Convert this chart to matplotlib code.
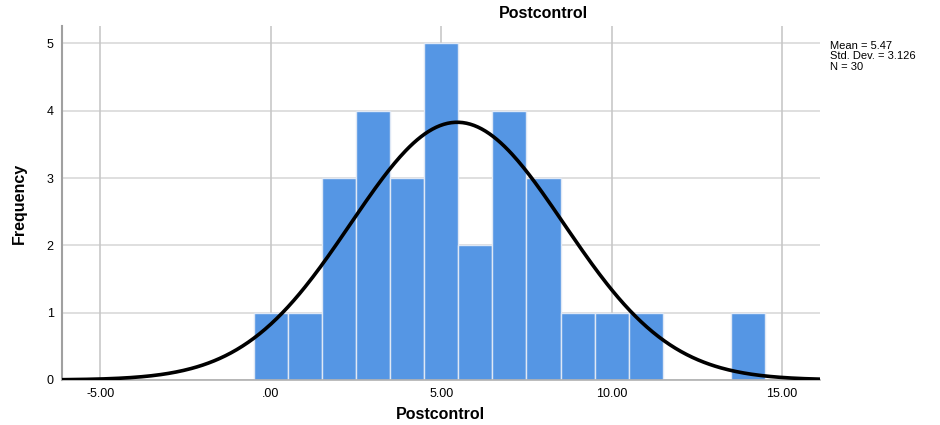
import matplotlib.pyplot as plt
import numpy as np

plt.rcParams['font.family'] = ['Liberation Sans', 'DejaVu Sans']

# histogram data (bin centres and counts)
bin_centres = [0, 1, 2, 3, 4, 5, 6, 7, 8, 9, 10, 11, 12, 13, 14]
counts = [1, 1, 3, 4, 3, 5, 2, 4, 3, 1, 1, 1, 0, 0, 1]
mean = 5.47
std = 3.126
n = 30
xticks = [-5, 0, 5, 10, 15]
xtick_labels = ['-5.00', '.00', '5.00', '10.00', '15.00']
yticks = [0, 1, 2, 3, 4, 5]

fig = plt.figure(figsize=(9.4, 4.25), dpi=100)
ax = fig.add_axes([0.066, 0.106, 0.806, 0.833])

ax.bar(bin_centres, counts, width=1.0, color='#5596E4', edgecolor='#dfe8f5',
       linewidth=1.0, zorder=2)

# normal curve scaled to counts
xs = np.linspace(-6.12, 16.1, 400)
ys = n * 1.0 / (std * np.sqrt(2 * np.pi)) * np.exp(-0.5 * ((xs - mean) / std) ** 2)
ax.plot(xs, ys, color='black', linewidth=2.6, zorder=3)

ax.set_xlim(-6.12, 16.1)
ax.set_ylim(0, 5.26)
ax.set_xticks(xticks)
ax.set_xticklabels(xtick_labels)
ax.set_yticks(yticks)
ax.tick_params(length=0, labelsize=9, pad=6)

# grid lines
for yv in yticks:
    ax.axhline(yv, color='#d9d9d9', linewidth=1.2, zorder=1)
for xv in xticks:
    ax.axvline(xv, color='#c8c8c8', linewidth=1.2, zorder=1)

for s in ['top', 'right']:
    ax.spines[s].set_visible(False)
ax.spines['left'].set_color('#a0a0a0')
ax.spines['left'].set_linewidth(1.5)
ax.spines['bottom'].set_color('#b0b0b0')
ax.spines['bottom'].set_linewidth(1.2)

ax.set_xlabel('Postcontrol', fontsize=11.5, fontweight='bold', labelpad=5)
ax.set_ylabel('Frequency', fontsize=11.5, fontweight='bold', labelpad=14)
fig.text(543 / 940, 1 - 14 / 425, 'Postcontrol', fontsize=11.5, fontweight='bold',
         ha='center', va='center')

fig.text(830 / 940, 1 - 41 / 425, 'Mean = 5.47\nStd. Dev. = 3.126\nN = 30',
         fontsize=8, ha='left', va='top', linespacing=1.05)

fig.savefig('out.png', dpi=100)
